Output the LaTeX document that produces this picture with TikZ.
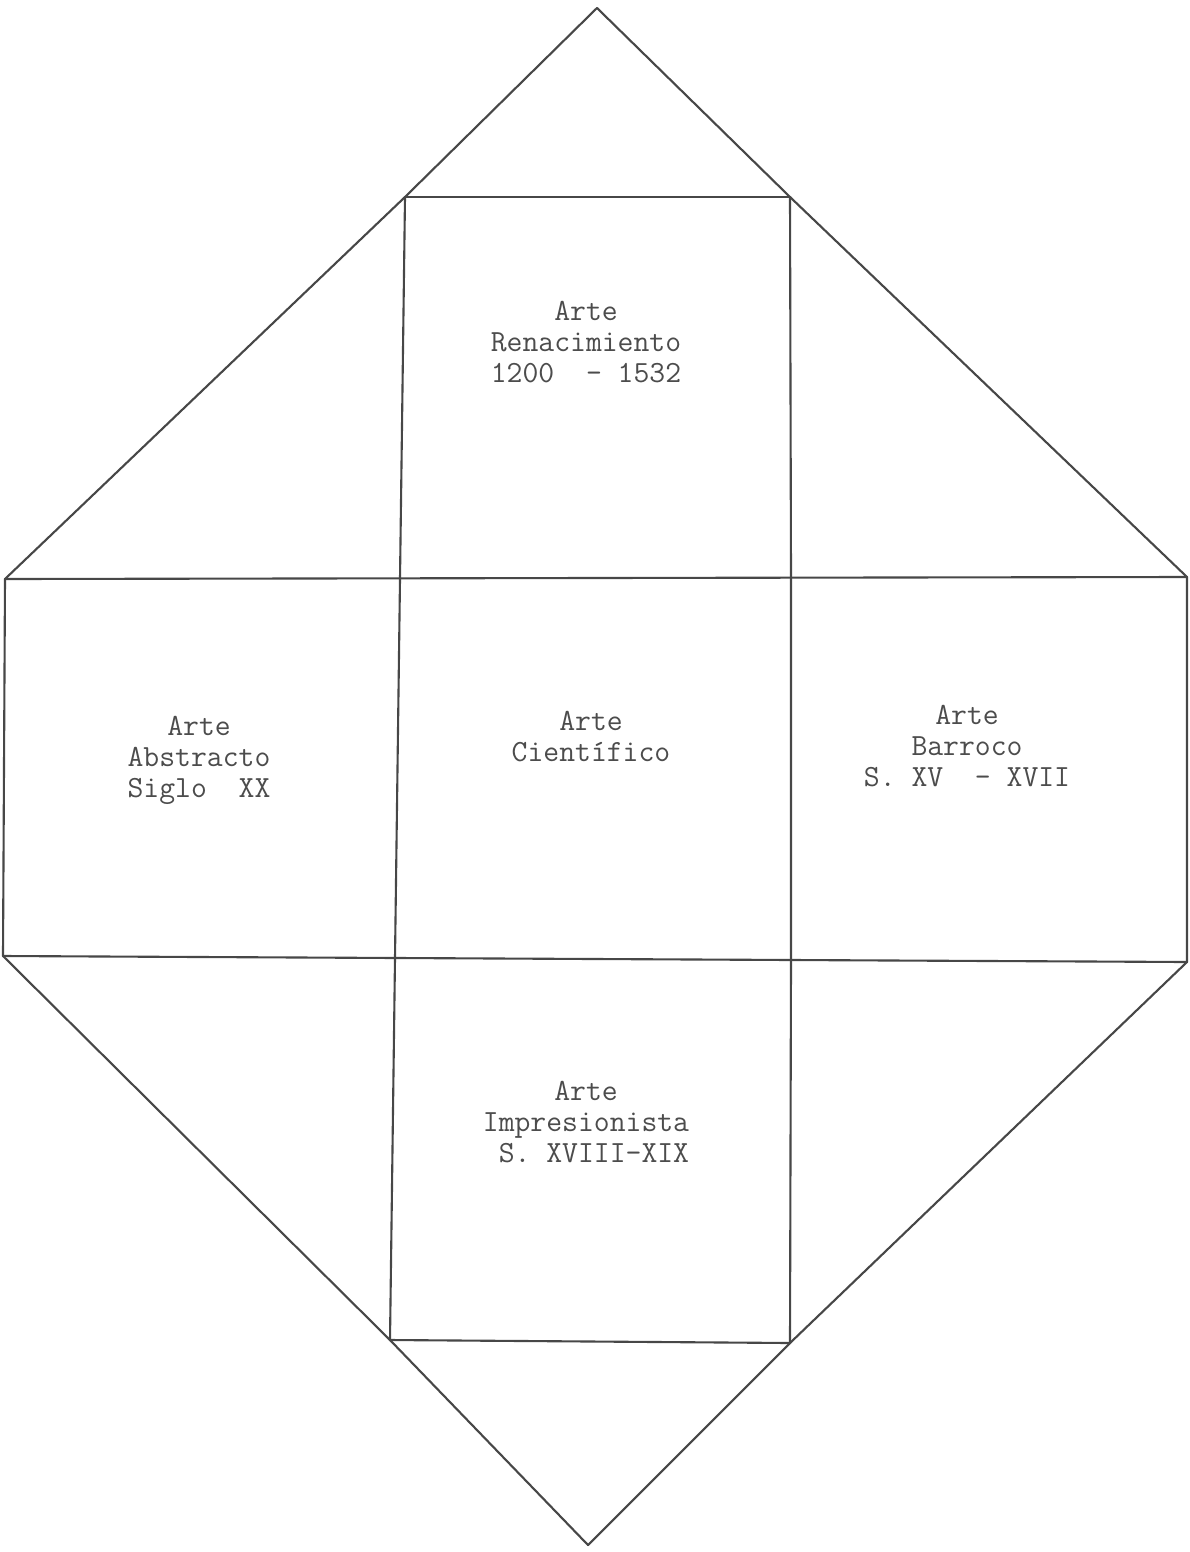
\documentclass[tikz,border=0pt]{standalone}
\begin{document}
\begin{tikzpicture}[x=0.025cm,y=-0.025cm,
  edge/.style={draw=black!72,line width=1.5pt,line join=round,line cap=round},
  label/.style={inner sep=0pt,align=center,text=black!70,font=\ttfamily\fontsize{21.9}{22}\selectfont}]
\useasboundingbox (0,0) rectangle (1190,1552);
% key points
\coordinate (T) at (597,8);
\coordinate (A1) at (405,197);
\coordinate (A2) at (790,197);
\coordinate (B1) at (5,579);
\coordinate (B2) at (400,579);
\coordinate (B3) at (791,578);
\coordinate (B4) at (1187,577);
\coordinate (C1) at (3,956);
\coordinate (C2) at (395,958);
\coordinate (C3) at (791,960);
\coordinate (C4) at (1187,962);
\coordinate (D1) at (390,1340);
\coordinate (D2) at (790,1343);
\coordinate (E) at (588,1545);
% outline
\draw[edge] (T) -- (A2) -- (B4) -- (C4) -- (D2) -- (E) -- (D1) -- (C1) -- (B1) -- (A1) -- cycle;
% inner lines
\draw[edge] (A1) -- (A2);
\draw[edge] (B1) -- (B4);
\draw[edge] (C1) -- (C4);
\draw[edge] (D1) -- (D2);
\draw[edge] (A1) -- (B2) -- (C2) -- (D1);
\draw[edge] (A2) -- (B3) -- (C3) -- (D2);
% labels
\node[label] (top) at (586,342) {Arte\\Renacimiento\\1200\ \ -\ 1532};
\node[label] (left) at (199,760) {Arte\\Abstracto\\Siglo\ \ XX};
\node[label] (mid) at (591,737) {Arte\\Científico};
\node[label] (right) at (967,746) {Arte\\Barroco\\S.\ XV\ \ -\ XVII};
\node[label] (bot) at (586,1122) {Arte\\Impresionista\\\hphantom{x}S.\ XVIII-XIX};
\end{tikzpicture}
\end{document}
